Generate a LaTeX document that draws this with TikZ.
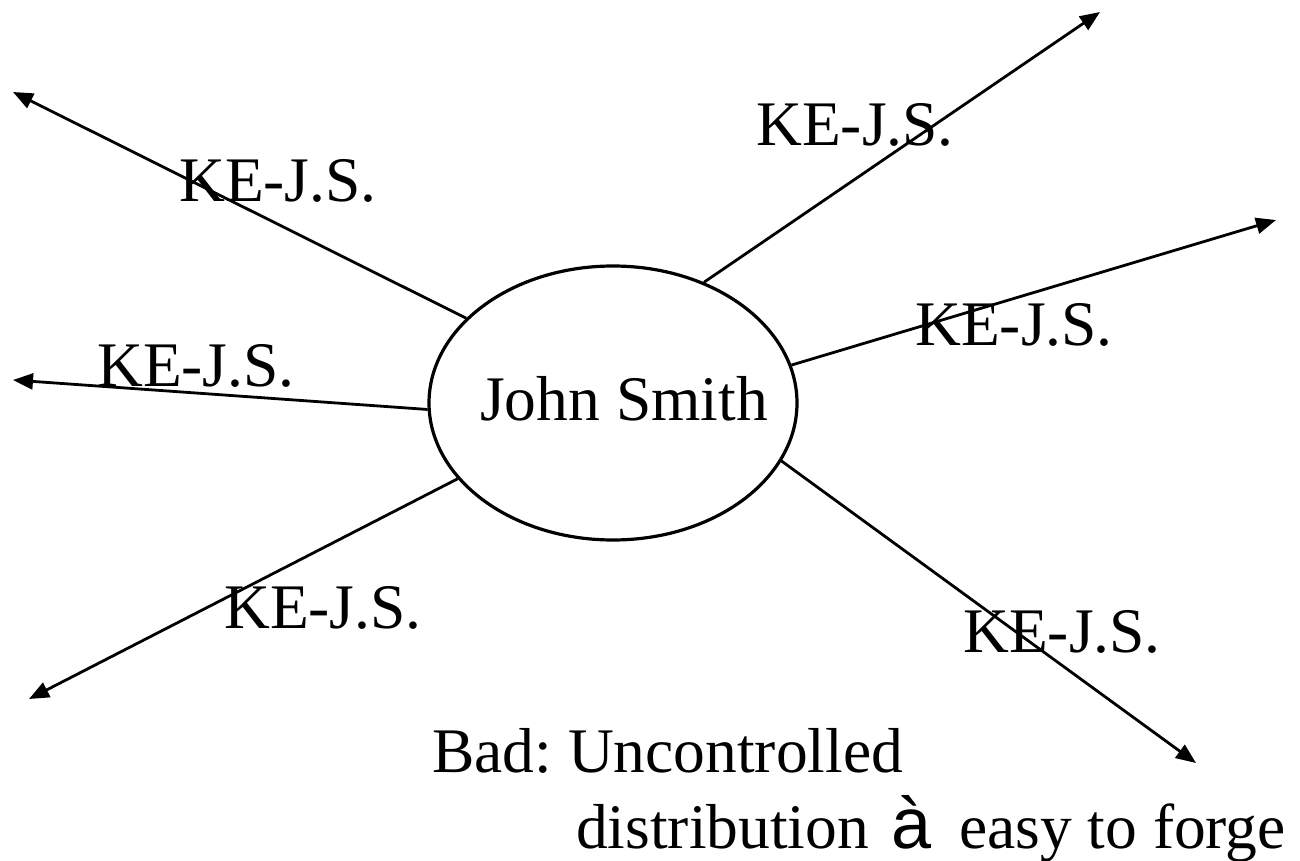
\documentclass[tikz,border=0pt]{standalone}
\usepackage{fontspec}
\setmainfont{Liberation Serif}
\newfontfamily\sansglyph{Liberation Sans}
\usetikzlibrary{shapes.geometric,arrows.meta}

\begin{document}
\frenchspacing
\begin{tikzpicture}[x=1pt,y=-1pt,
  big/.style={font=\fontsize{63.5}{76}\selectfont, inner sep=0pt},
  edge/.style={line width=2.8pt, -{Triangle[length=20pt,width=16pt]}},
  keylabel/.style={big, anchor=base west}]
  \useasboundingbox (0,0) rectangle (1300,861);

  % central person
  \node[ellipse, draw, line width=3.2pt, minimum width=368pt, minimum height=274pt, inner sep=0pt] (js) at (613,403) {};
  \node[big, anchor=base] (jsname) at (624,420) {John Smith};

  % arrow tips
  \coordinate (t1) at (13,92);
  \coordinate (t2) at (13,380);
  \coordinate (t3) at (29,699);
  \coordinate (t4) at (1100,12);
  \coordinate (t5) at (1276,220);
  \coordinate (t6) at (1196,763);

  \draw[edge] (js.150.2) -- (t1);
  \draw[edge] (js.182.8) -- (t2);
  \draw[edge] (js.206.1) -- (t3);
  \draw[edge] (js.53.4) -- (t4);
  \draw[edge] (js.12) -- (t5);
  \draw[edge] (js.341.1) -- (t6);

  % key labels
  \node[keylabel] (k1) at (179,201) {KE-J.S.};
  \node[keylabel] (k2) at (97,386) {KE-J.S.};
  \node[keylabel] (k3) at (224,628) {KE-J.S.};
  \node[keylabel] (k4) at (756,146) {KE-J.S.};
  \node[keylabel] (k5) at (915,345) {KE-J.S.};
  \node[keylabel] (k6) at (963,652) {KE-J.S.};

  % note
  \node[keylabel] (bad1) at (432,772) {Bad: Uncontrolled};
  \node[keylabel] (bad2) at (576,848) {distribution\hspace{22pt}{\sansglyph\fontsize{72}{80}\selectfont à}\hspace{28pt}easy to forge};
\end{tikzpicture}
\end{document}
